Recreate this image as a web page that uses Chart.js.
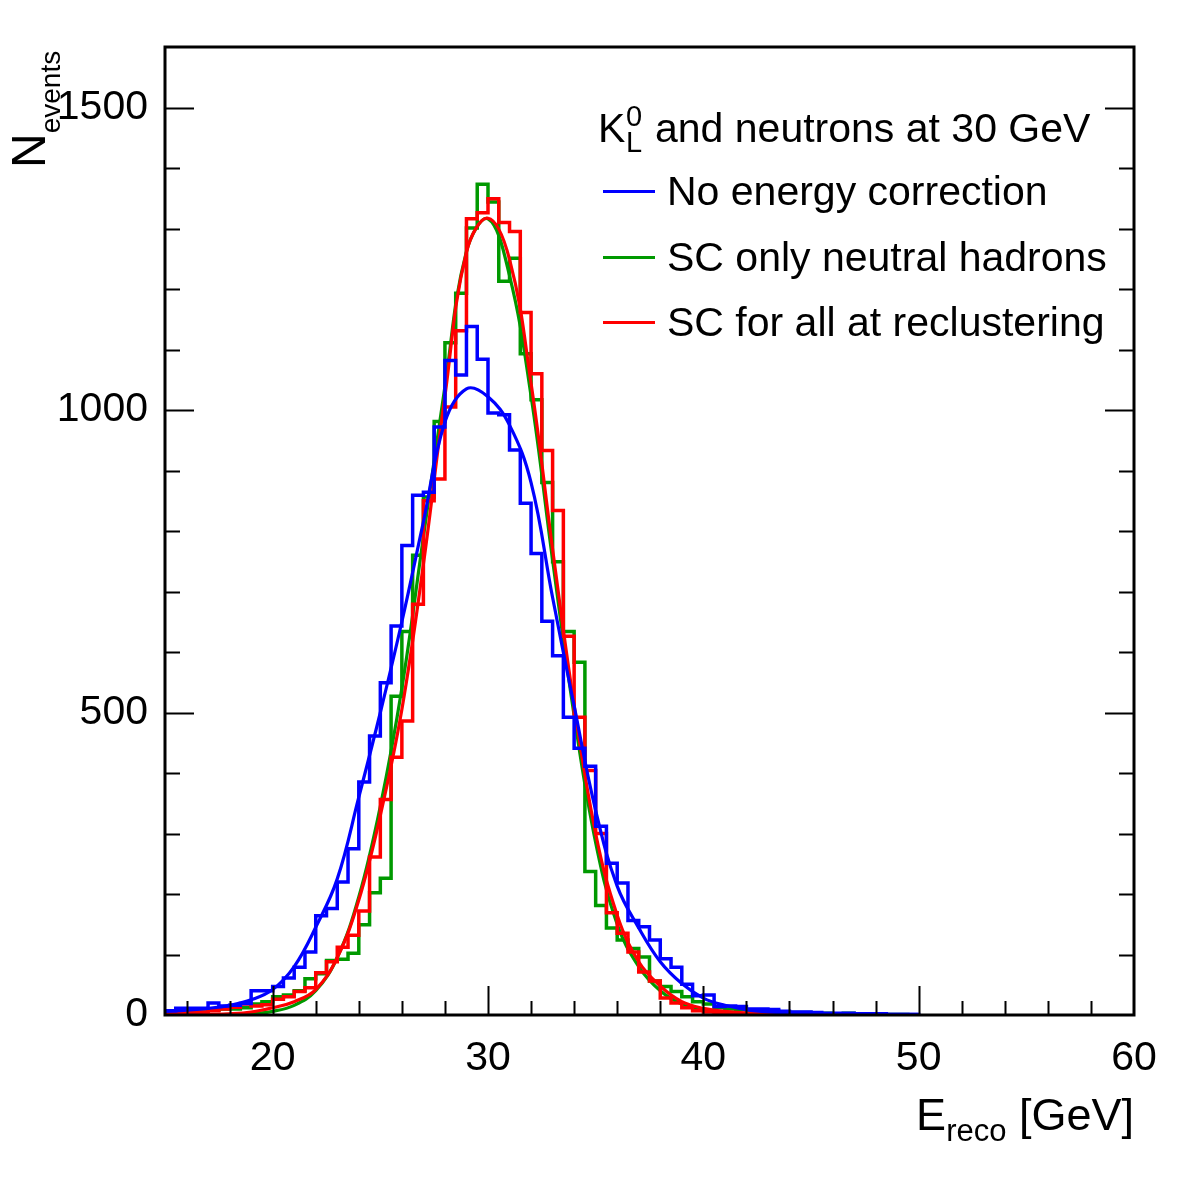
<!DOCTYPE html>
<html>
<head>
<meta charset="utf-8">
<title>E reco, K0L and neutrons at 30 GeV</title>
<script src="https://cdn.jsdelivr.net/npm/chart.js@4.4.1/dist/chart.umd.min.js"></script>
<style>
  body { margin: 0; background: #fff; }
  #wrap { position: relative; width: 1182px; height: 1182px; background: #fff;
          font-family: 'Liberation Sans', Arial, Helvetica, sans-serif; color: #000; }
  canvas { position: absolute; left: 0; top: 0; }
  .txt { position: absolute; white-space: nowrap; line-height: 1; }
  .ytitle { left: 5px; top: 168px; font-size: 48px; transform: rotate(-90deg); transform-origin: 0 0; }
  .ytitle span { font-size: 28px; vertical-align: -15px; }
  .xtitle { right: 48px; top: 1092px; font-size: 45px; }
  .xtitle span { font-size: 31px; vertical-align: -11px; }
  .leg { font-size: 41px; }
  .small { font-size: 29px; }
  .swatch { position: absolute; width: 52px; height: 3px; }
</style>
</head>
<body>
<div id="wrap">
  <canvas id="chart" width="1182" height="1182"></canvas>
  <div class="txt ytitle">N<span>events</span></div>
  <div class="txt xtitle">E<span>reco</span> [GeV]</div>
  <div class="txt leg" style="left:598px; top:108px;">K</div>
  <div class="txt small" style="left:626px; top:102px;">0</div>
  <div class="txt small" style="left:626px; top:128px;">L</div>
  <div class="txt leg" style="left:655px; top:108px;">and neutrons at 30 GeV</div>
  <div id="legend"></div>
</div>
<script>
// histogram binning (GeV)
const histLow = 15;
const binWidth = 0.5;

// counts per 0.5 GeV bin, from 15 to 50 GeV
const noCorrHist = [7, 11, 11, 11, 20, 15, 16, 19, 40, 40, 47, 61, 79, 104,
    164, 176, 220, 275, 385, 461, 549, 643, 776, 859, 864,
    972, 1082, 1058, 1138, 1084, 995, 992, 934, 846, 763,
    651, 594, 492, 441, 411, 312, 251, 218, 156, 146, 124,
    93, 79, 51, 32, 33, 14, 15, 14, 10, 10, 9, 6, 5, 5, 4, 3, 3, 3, 2, 2, 2, 1, 1, 1];
const scNeutralHist = [5, 4, 6, 5, 8, 10, 10, 12, 18, 22, 30, 33, 40, 60, 68, 90, 92, 102, 149, 202, 226,
    527, 634, 760, 856,
    981, 1111, 1193, 1301, 1373, 1344, 1213, 1251, 1093, 1017, 880,
    749, 634, 583, 237, 181, 144, 124, 110, 96, 56,
    47, 39, 30, 22, 18, 12, 10, 9, 8, 7, 6, 5, 4, 4, 3, 3, 2, 3, 2, 1, 1, 1, 1, 0];
const scAllHist = [3, 4, 4, 5, 7, 10, 13, 18, 15, 17, 26, 30, 39, 45, 70, 88, 112, 132, 172, 261, 356,
    426, 486, 679, 850,
    886, 1005, 1131, 1316, 1326, 1349, 1310, 1295, 1161, 1060, 933,
    834, 626, 492, 404, 300, 169, 135, 104, 71, 56,
    28, 20, 12, 7, 5, 4, 3, 3, 2, 2, 1, 1, 1, 1, 1, 0, 0, 0, 0, 0, 0, 0, 0, 0];

// fitted curves, every 1 GeV
const fitE = [15, 16, 17, 18, 19, 20, 21, 22, 23, 24, 25, 26, 27, 28, 29, 30, 31, 32,
    33, 34, 35, 36, 37, 38, 39, 40, 41, 42, 43, 44, 45, 46, 47, 48, 49, 50];
const noCorrFit = [6, 8, 11, 16, 25, 42, 80, 145, 225, 360, 500, 650, 815, 980, 1035, 1022, 975, 880,
    690, 511, 338, 213, 144, 88, 52, 28, 16, 9, 5, 3, 2, 1, 1, 1, 1, 1];
const scNeutralFit = [0, 0, 0, 1, 2, 6, 16, 40, 95, 195, 345, 540, 790, 1039, 1262, 1316, 1222, 1023,
    752, 495, 285, 150, 80, 40, 18, 8, 3, 1, 0, 0, 0, 0, 0, 0, 0, 0];
const scAllFit = [0, 0, 1, 2, 5, 12, 22, 42, 95, 190, 330, 505, 745, 1023, 1261, 1317, 1249, 1044,
    770, 512, 300, 165, 88, 48, 22, 11, 6, 3, 1, 0, 0, 0, 0, 0, 0, 0];

const seriesNames = ['No energy correction', 'SC only neutral hadrons', 'SC for all at reclustering'];
const seriesColors = ['#0000ff', '#009900', '#ff0000'];

// axis ranges and ticks
const xMin = 15, xMax = 60, xMajor = 10, xMinor = 2;
const yMin = 0, yMax = 1600, yMajor = 500, yMinor = 100;

function histPoints(values) {
    const pts = values.map((v, i) => ({ x: histLow + i * binWidth, y: v }));
    pts.push({ x: histLow + values.length * binWidth, y: 0 });
    return pts;
}

function fitPoints(values) {
    return values.map((v, i) => ({ x: fitE[i], y: v }));
}

// legend rows
const legend = document.getElementById('legend');
const rowCenters = [191, 257, 322];
seriesNames.forEach((name, i) => {
    const sw = document.createElement('div');
    sw.className = 'swatch';
    sw.style.left = '603px';
    sw.style.top = (rowCenters[i] - 1.5) + 'px';
    sw.style.background = seriesColors[i];
    legend.appendChild(sw);
    const t = document.createElement('div');
    t.className = 'txt leg';
    t.style.left = '667px';
    t.style.top = (rowCenters[i] - 20) + 'px';
    t.textContent = name;
    legend.appendChild(t);
});

// frame with inward ticks, ROOT style
const framePlugin = {
    id: 'frame',
    afterDatasetsDraw(chart) {
        const { ctx, chartArea: a, scales: { x, y } } = chart;
        ctx.save();
        ctx.strokeStyle = '#000';
        ctx.lineWidth = 2;
        ctx.beginPath();
        for (let v = yMin + yMinor; v < yMax; v += yMinor) {
            const py = Math.round(y.getPixelForValue(v)) + 0.5;
            const len = v % yMajor === 0 ? 29 : 15;
            ctx.moveTo(a.left, py);
            ctx.lineTo(a.left + len, py);
            ctx.moveTo(a.right, py);
            ctx.lineTo(a.right - len, py);
        }
        for (let v = 16; v < xMax; v += xMinor) {
            const px = Math.round(x.getPixelForValue(v)) + 0.5;
            const len = v % xMajor === 0 ? 29 : 14;
            ctx.moveTo(px, a.bottom);
            ctx.lineTo(px, a.bottom - len);
        }
        ctx.stroke();
        ctx.lineWidth = 3;
        ctx.strokeRect(a.left, a.top, a.right - a.left, a.bottom - a.top);
        ctx.restore();
    }
};

const histStyle = { stepped: true, borderWidth: 3.5, pointRadius: 0, fill: false, tension: 0 };
const fitStyle = { borderWidth: 3.2, pointRadius: 0, fill: false, tension: 0.4 };
const tickFont = { family: "'Liberation Sans', Arial, sans-serif", size: 41 };

const ctx = document.getElementById('chart').getContext('2d');
new Chart(ctx, {
    type: 'line',
    data: {
        datasets: [
            { label: seriesNames[1], data: histPoints(scNeutralHist), borderColor: seriesColors[1], order: 6, ...histStyle },
            { label: seriesNames[1] + ' fit', data: fitPoints(scNeutralFit), borderColor: seriesColors[1], order: 5, ...fitStyle },
            { label: seriesNames[2], data: histPoints(scAllHist), borderColor: seriesColors[2], order: 4, ...histStyle },
            { label: seriesNames[2] + ' fit', data: fitPoints(scAllFit), borderColor: seriesColors[2], order: 3, ...fitStyle },
            { label: seriesNames[0], data: histPoints(noCorrHist), borderColor: seriesColors[0], order: 2, ...histStyle },
            { label: seriesNames[0] + ' fit', data: fitPoints(noCorrFit), borderColor: seriesColors[0], order: 1, ...fitStyle }
        ]
    },
    options: {
        responsive: false,
        devicePixelRatio: 1,
        animation: false,
        layout: { padding: { left: 0, right: 48, top: 47, bottom: 0 } },
        plugins: {
            legend: { display: false },
            tooltip: { enabled: false }
        },
        scales: {
            x: {
                type: 'linear',
                min: xMin,
                max: xMax,
                grid: { display: false, drawTicks: false },
                border: { display: false },
                ticks: {
                    stepSize: xMajor,
                    includeBounds: false,
                    autoSkip: false,
                    color: '#000',
                    padding: 19,
                    maxRotation: 0,
                    font: tickFont,
                    callback: (v) => String(v)
                },
                afterFit(scale) { scale.height = 167; }
            },
            y: {
                type: 'linear',
                min: yMin,
                max: yMax,
                grid: { display: false, drawTicks: false },
                border: { display: false },
                ticks: {
                    stepSize: yMinor,
                    autoSkip: false,
                    color: '#000',
                    padding: 17,
                    font: tickFont,
                    callback: (v) => (v % yMajor === 0 ? String(v) : '')
                },
                afterFit(scale) { scale.width = 165; }
            }
        }
    },
    plugins: [framePlugin]
});
</script>
</body>
</html>
